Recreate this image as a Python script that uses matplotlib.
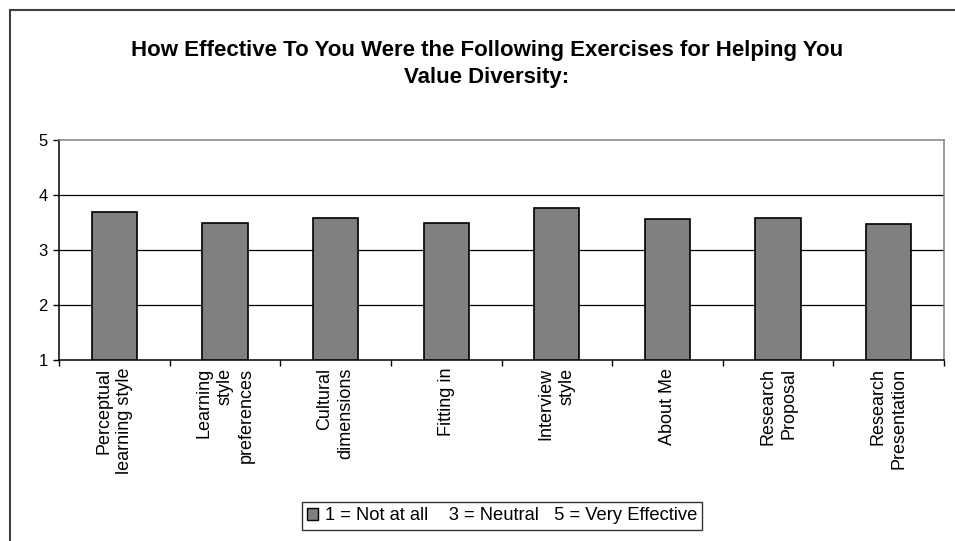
import matplotlib.pyplot as plt
from matplotlib.patches import Rectangle, Patch

categories = ['Perceptual\nlearning style', 'Learning\nstyle\npreferences',
              'Cultural\ndimensions', 'Fitting in', 'Interview\nstyle',
              'About Me', 'Research\nProposal', 'Research\nPresentation']
ratings = [3.69, 3.49, 3.59, 3.49, 3.77, 3.56, 3.58, 3.48]
y_ticks = [1, 2, 3, 4, 5]
legend_label = '1 = Not at all    3 = Neutral   5 = Very Effective'

plt.rcParams['font.family'] = ['Liberation Sans', 'DejaVu Sans']

W, H = 955, 541
fig = plt.figure(figsize=(W / 100, H / 100), dpi=100)
fig.patch.set_facecolor('white')

# outer chart border (runs off right/bottom edge as in the original)
fig.patches.append(Rectangle((10 / W, -0.05), 1.2, 1 - 10 / H + 0.05,
                             transform=fig.transFigure, fill=False,
                             edgecolor='#404040', linewidth=1.5))

ax = fig.add_axes([59 / W, 1 - 360 / H, (944 - 59) / W, (360 - 140) / H])
x = list(range(len(categories)))
ax.bar(x, [r - 1 for r in ratings], bottom=1, width=0.41,
       color='#808080', edgecolor='black', linewidth=1.2, zorder=3)

ax.set_ylim(1, 5)
ax.set_xlim(-0.5, len(categories) - 0.5)
ax.set_yticks(y_ticks)
ax.set_yticklabels([str(t) for t in y_ticks], fontsize=12)
for t in y_ticks[1:-1]:
    ax.axhline(t, color='black', linewidth=0.9, zorder=1)

ax.set_xticks([i - 0.5 for i in range(len(categories) + 1)])
ax.set_xticklabels([])
ax.tick_params(axis='x', direction='out', length=4, width=1)
ax.tick_params(axis='y', direction='out', length=4, width=1, pad=4)

for i, lab in enumerate(categories):
    ax.text(i, -8 / 220, lab, transform=ax.get_xaxis_transform(), rotation=90,
            ha='center', va='top', multialignment='right', fontsize=13,
            linespacing=1.3)

ax.spines['left'].set_color('black')
ax.spines['bottom'].set_color('black')
ax.spines['top'].set_color('#808080')
ax.spines['right'].set_color('#808080')
for s in ax.spines.values():
    s.set_linewidth(1.1)

fig.text(487 / W, 1 - 64 / H,
         'How Effective To You Were the Following Exercises for Helping You\nValue Diversity:',
         ha='center', va='center', fontsize=16, fontweight='bold',
         linespacing=1.4)

handle = Patch(facecolor='#808080', edgecolor='black', linewidth=1)
leg = fig.legend([handle], [legend_label], loc='center',
                 bbox_to_anchor=(502 / W, 1 - 516 / H), fontsize=13.2,
                 frameon=True, fancybox=False, handlelength=0.6,
                 handleheight=0.6, handletextpad=0.35, borderpad=0.3)
leg.get_frame().set_edgecolor('black')
leg.get_frame().set_linewidth(1)

fig.savefig('out.png', dpi=100)
